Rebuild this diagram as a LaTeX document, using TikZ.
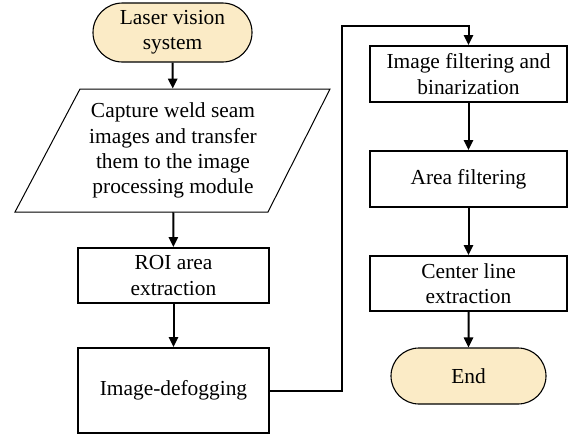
\documentclass[tikz,border=0pt]{standalone}
\usepackage{fontspec}
\setmainfont{Liberation Serif}
\usetikzlibrary{shapes.misc,arrows.meta}
\definecolor{termfill}{RGB}{251,235,198}
\tikzset{
  flow/.style={line width=1pt, -{Triangle[length=5pt,width=4.6pt]}},
  terminal/.style={rounded rectangle, draw, line width=0.55pt, fill=termfill,
     align=center, inner sep=0pt},
  procbox/.style={rectangle, draw, line width=0.9pt, align=center, inner sep=0pt},
}
\begin{document}
\begin{tikzpicture}[x=0.5pt,y=-0.5pt,font=\fontsize{10.7}{12.6}\selectfont]
  \useasboundingbox (0,0) rectangle (569,435);
  % left column
  \node[terminal, minimum width=79.5pt, minimum height=29.5pt] (start) at (172.5,32.5) {Laser vision\\system};
  \draw[line width=0.5pt] (15,212) -- (80,89) -- (330,89) -- (268,212) -- cycle;
  \node[align=center, minimum height=61.5pt, inner sep=0pt] (capture) at (173,150.5)
    {Capture weld seam\\images and transfer\\them to the image\\processing module};
  \node[procbox, minimum width=95.5pt, minimum height=27.5pt] (roi) at (173.5,275.5) {ROI area\\extraction};
  \node[procbox, minimum width=95.5pt, minimum height=42.5pt] (defog) at (173.5,390.5) {Image-defogging};
  % right column
  \node[procbox, minimum width=98.5pt, minimum height=28pt] (filt) at (468.5,74) {Image filtering and\\binarization};
  \node[procbox, minimum width=98.5pt, minimum height=28pt] (area) at (468.5,179) {Area filtering};
  \node[procbox, minimum width=98.5pt, minimum height=27.5pt] (center) at (468.5,283.5) {Center line\\extraction};
  \node[terminal, minimum width=77.5pt, minimum height=28pt] (end) at (468.5,376) {End};
  \coordinate (turn) at (342,26);
  % connectors
  \draw[flow] (start) -- (capture);
  \draw[flow] (capture) -- (roi);
  \draw[flow] (roi) -- (defog);
  \draw[flow] (defog.east) -| (turn) -| (filt.north);
  \draw[flow] (filt) -- (area);
  \draw[flow] (area) -- (center);
  \draw[flow] (center) -- (end);
\end{tikzpicture}
\end{document}
